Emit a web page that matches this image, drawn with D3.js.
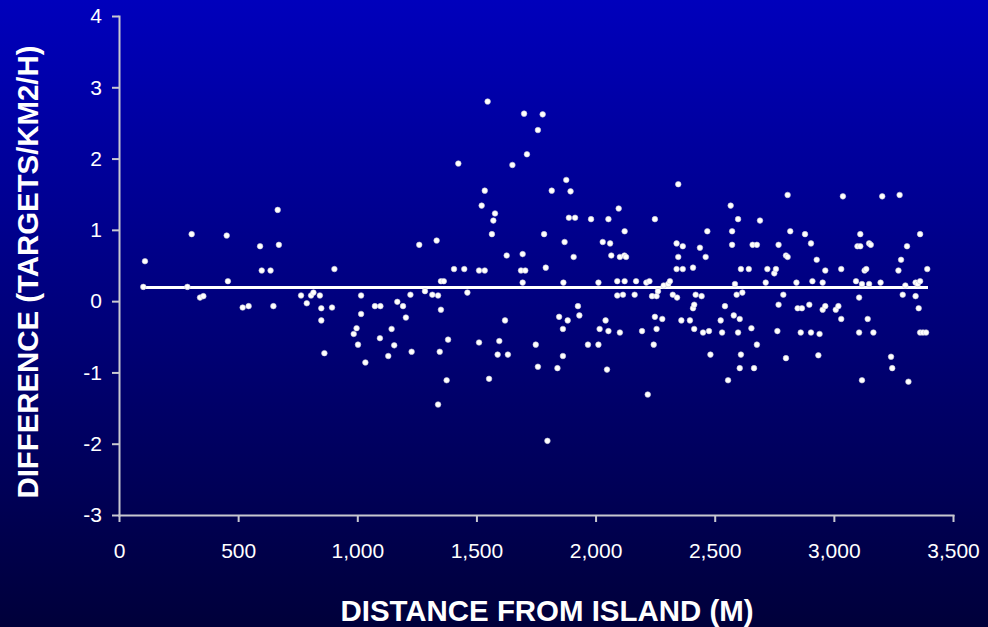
<!DOCTYPE html>
<html>
<head>
<meta charset="utf-8">
<script src="https://cdn.jsdelivr.net/npm/d3@7"></script>
<style>
  html, body { margin: 0; padding: 0; }
  body { width: 988px; height: 627px; overflow: hidden; font-family: "Liberation Sans", Arial, sans-serif; }
  .axis path, .axis line { stroke: #c8c8d0; stroke-width: 2; }
  .axis text { fill: #fff; font-size: 21px; font-family: "Liberation Sans", Arial, sans-serif; }
</style>
</head>
<body>
<div id="chart"></div>
<script>
// distance from island (m) and difference (targets/km2/h)
const distance = [
  109, 102, 305, 287, 340, 354, 452, 457, 519, 544, 592, 599, 636, 666, 671, 648, 764, 788, 806, 816, 843, 849, 849, 862,
  904, 894, 1016, 1016, 997, 985, 1003, 1034, 1074, 1097, 1095, 1130, 1144, 1155, 1168, 1192, 1204, 1223, 1228, 1260,
  1284, 1315, 1333, 1339, 1351, 1363, 1351, 1346, 1381, 1375, 1339, 1406, 1424, 1449, 1462, 1511, 1511, 1535, 1535, 1522,
  1547, 1553, 1565, 1571, 1578, 1589, 1596, 1620, 1627, 1632, 1651, 1687, 1705, 1694, 1694, 1700, 1712, 1749, 1758, 1758,
  1778, 1784, 1791, 1798, 1816, 1840, 1847, 1865, 1863, 1863, 1870, 1877, 1883, 1888, 1895, 1908, 1914, 1926, 1932, 1968,
  1981, 2012, 2012, 2017, 2030, 2042, 2048, 2054, 2054, 2061, 2066, 2091, 2091, 2097, 2102, 2102, 2115, 2122, 2122, 2121,
  2128, 2164, 2170, 2195, 2213, 2226, 2219, 2237, 2244, 2249, 2249, 2256, 2256, 2262, 2280, 2286, 2305, 2312, 2324, 2342,
  2340, 2340, 2347, 2347, 2366, 2366, 2360, 2396, 2409, 2409, 2414, 2414, 2420, 2438, 2445, 2451, 2462, 2469, 2476, 2482,
  2525, 2531, 2543, 2556, 2567, 2573, 2573, 2580, 2585, 2592, 2598, 2598, 2605, 2605, 2610, 2610, 2616, 2643,
  2654, 2659, 2677, 2665, 2677, 2690, 2714, 2721, 2750, 2757, 2763, 2768, 2768, 2788, 2799, 2806, 2799, 2806, 2817, 2843,
  2848, 2861, 2866, 2879, 2897, 2904, 2904, 2910, 2928, 2935, 2940, 2953, 2953, 2964, 2964, 3008, 3019, 3031, 3031, 3038,
  3093, 3099, 3111, 3111, 3106, 3106, 3118, 3118, 3129, 3136, 3142, 3148, 3155, 3148, 3166, 3196, 3203, 3240, 3245, 3271,
  3276, 3282, 3289, 3300, 3307, 3313, 3343, 3343, 3352, 3356, 3362, 3362, 3362, 3374, 3387, 3392
];
const difference = [
  0.56, 0.20, 0.94, 0.20, 0.05, 0.07, 0.92, 0.28, -0.09, -0.07, 0.77, 0.43, 0.43, 1.28, 0.79, -0.07, 0.08, -0.03, 0.08, 0.12, 0.08, -0.10, -0.27, -0.73,
  0.45, -0.09, 0.08, -0.18, -0.38, -0.46, -0.61, -0.86, -0.07, -0.07, -0.52, -0.77, -0.39, -0.62, -0.01, -0.07, -0.23, 0.09, -0.71, 0.79,
  0.14, 0.09, 0.85, 0.08, 0.28, 0.28, -0.12, -0.71, -0.54, -1.11, -1.45, 0.45, 1.93, 0.45, 0.12, 0.43, -0.58, 0.43, 1.55, 1.34,
  2.80, -1.09, 0.94, 1.13, 1.23, -0.75, -0.56, -0.27, 0.64, -0.75, 1.91, 0.43, 0.43, 0.66, 0.26, 2.63, 2.06, -0.61, 2.40, -0.92,
  2.62, 0.94, 0.47, -1.96, 1.55, -0.94, -0.22, 0.26, -0.39, -0.77, 0.83, 1.70, -0.27, 1.17, 1.54, 0.62, 1.17, -0.07, -0.20, -0.61,
  1.15, 0.26, -0.61, -0.39, 0.83, -0.27, -0.96, 1.15, -0.42, 0.81, 0.64, 0.28, 0.08, 1.30, -0.44, 0.62, 0.09, 0.98, 0.28, 0.64,
  0.62, 0.09, 0.28, -0.42, 0.26, 0.28, -1.31, 0.07, -0.61, -0.22, 1.15, 0.07, -0.39, 0.14, -0.25, 0.22, 0.24, 0.28, 0.09, 0.05,
  0.81, 0.45, 1.64, 0.62, 0.77, 0.45, -0.27, -0.27, 0.47, -0.10, -0.05, -0.39, 0.09, 0.75, 0.07, -0.44, 0.62, 0.98, -0.42, -0.75,
  -0.27, -0.44, -0.07, -1.11, 1.34, 0.98, 0.79, -0.20, 0.24, 0.09, 1.15, -0.44, -0.25, -0.94, 0.45, -0.75, 0.12, 0.45,
  -0.38, 0.79, 0.79, -0.94, -0.61, 1.13, 0.26, 0.45, 0.39, 0.45, -0.42, 0.79, -0.05, 0.09, 0.64, 0.62, -0.80, 1.49, 0.98, 0.26,
  -0.10, -0.44, -0.10, 0.94, -0.05, 0.81, -0.44, 0.28, 0.58, -0.76, -0.46, 0.26, -0.12, -0.07, 0.43, -0.12, -0.07, 0.45, -0.25, 1.47,
  0.28, 0.77, 0.77, 0.94, 0.05, -0.44, 0.24, -1.11, 0.43, 0.45, -0.25, 0.81, 0.79, 0.24, -0.44, 0.26, 1.47, -0.78, -0.94, 0.43,
  1.49, 0.58, 0.09, 0.22, 0.77, -1.13, 0.26, 0.07, 0.24, -0.10, 0.28, 0.94, -0.44, -0.44, -0.44, 0.45
];

// mean difference line
const meanX = [100, 3395];
const meanY = [0.19, 0.19];

const xTicks = [0, 500, 1000, 1500, 2000, 2500, 3000, 3500];
const yTicks = [-3, -2, -1, 0, 1, 2, 3, 4];
const xTitle = "DISTANCE FROM ISLAND (M)";
const yTitle = "DIFFERENCE (TARGETS/KM2/H)";

const W = 988, H = 627;
const margin = { top: 16, right: 35, bottom: 112, left: 119 },
  width = W - margin.left - margin.right,
  height = H - margin.top - margin.bottom;

const svg = d3
  .select("#chart")
  .append("svg")
  .attr("width", W)
  .attr("height", H);

const grad = svg
  .append("defs")
  .append("linearGradient")
  .attr("id", "bg")
  .attr("x1", 0).attr("y1", 0).attr("x2", 0).attr("y2", 1);
grad.append("stop").attr("offset", "0%").attr("stop-color", "#0000bc");
grad.append("stop").attr("offset", "100%").attr("stop-color", "#00003a");

svg.append("rect").attr("width", W).attr("height", H).attr("fill", "url(#bg)");

const g = svg
  .append("g")
  .attr("transform", `translate(${margin.left},${margin.top})`);

const x = d3.scaleLinear().domain([0, 3500]).range([0, width]);
const y = d3.scaleLinear().domain([-3, 4]).range([height, 0]);

// plain hyphen for negatives, like the original
const fmtX = (d) => d3.format(",")(d).replace("\u2212", "-");
const fmtY = (d) => String(d);

g.append("g")
  .attr("class", "axis x-axis")
  .attr("transform", `translate(0,${height})`)
  .call(
    d3.axisBottom(x)
      .tickValues(xTicks)
      .tickSize(7)
      .tickSizeOuter(0)
      .tickPadding(21)
      .tickFormat(fmtX)
  );

g.append("g")
  .attr("class", "axis y-axis")
  .call(
    d3.axisLeft(y)
      .tickValues(yTicks)
      .tickSize(7)
      .tickSizeOuter(0)
      .tickPadding(10)
      .tickFormat(fmtY)
  );

g.selectAll(".domain").attr("stroke-linecap", "square");

// mean line
const line = d3.line().x((d) => x(d[0])).y((d) => y(d[1]));
g.append("path")
  .datum(d3.zip(meanX, meanY))
  .attr("d", line)
  .attr("fill", "none")
  .attr("stroke", "#fff")
  .attr("stroke-width", 3);

g.selectAll(".dot")
  .data(d3.zip(distance, difference))
  .enter()
  .append("circle")
  .attr("class", "dot")
  .attr("cx", (d) => x(d[0]))
  .attr("cy", (d) => y(d[1]))
  .attr("r", 2.8)
  .attr("fill", "#ffffff")
  .attr("stroke", "#c8c8d8")
  .attr("stroke-width", 0.6);

svg.append("text")
  .attr("x", 547)
  .attr("y", 621)
  .attr("text-anchor", "middle")
  .attr("fill", "#fff")
  .attr("font-weight", "bold")
  .attr("font-size", 30)
  .attr("textLength", 413)
  .attr("lengthAdjust", "spacingAndGlyphs")
  .text(xTitle);

svg.append("text")
  .attr("transform", "translate(38,272) rotate(-90)")
  .attr("text-anchor", "middle")
  .attr("fill", "#fff")
  .attr("font-weight", "bold")
  .attr("font-size", 30)
  .attr("textLength", 453)
  .attr("lengthAdjust", "spacingAndGlyphs")
  .text(yTitle);
</script>
</body>
</html>
